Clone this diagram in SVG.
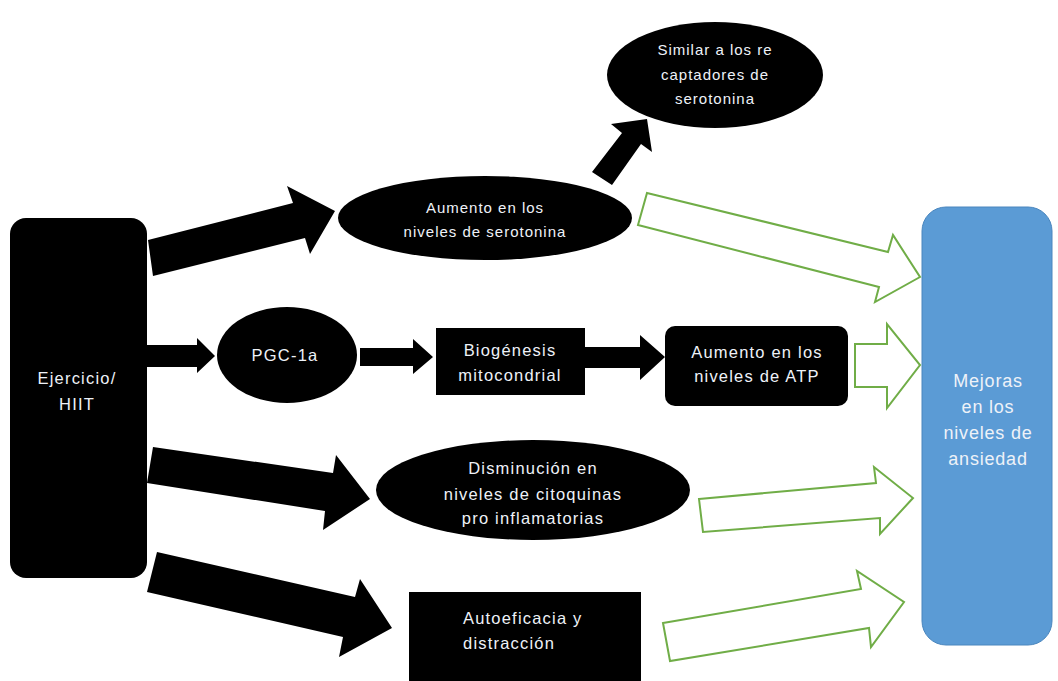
<svg xmlns="http://www.w3.org/2000/svg" width="1058" height="681" viewBox="0 0 1058 681">
<style>
.blk{fill:#000;}
.grn{fill:#fff;stroke:#70AD47;stroke-width:2;stroke-linejoin:miter;}
.t{font-family:"Liberation Sans",Arial,sans-serif;fill:#eef2f8;text-anchor:middle;}
.s{font-size:15px;letter-spacing:1px;}
.m{font-size:16.5px;letter-spacing:1.2px;}
.l{font-size:18px;letter-spacing:0.8px;}
</style>
<rect width="1058" height="681" fill="#fff"/>
<g id="connectors">
<polygon class="blk" points="148,240 293,203 287,186 335,211 310,254 305,238 153,276"/>
<polygon class="blk" points="592,172 622,133 611,124 647,119 652,152 641,144 612,185"/>
<polygon class="blk" points="147,345 197,345 197,338 215,356 197,373 197,367 147,367"/>
<polygon class="blk" points="360,348 413,348 413,339 433,357 413,374 413,366 360,366"/>
<polygon class="blk" points="585,347 640,347 640,335 665,357 640,380 640,368 585,368"/>
<polygon class="blk" points="153,447 333,473 336,455 370,499 323,530 325,511 147,483"/>
<polygon class="blk" points="157,552 355,597 360,579 392,628 339,657 343,637 147,592"/>
<polygon class="grn" points="647,193 888,252 893,235 920,277 875,302 879,287 638,225"/>
<polygon class="grn" points="855,344 887,344 887,324 920,365 887,408 887,387 855,387"/>
<polygon class="grn" points="699,499 876,483 874,467 913,498 880,534 880,518 703,532"/>
<polygon class="grn" points="663,623 861,589 857,571 904,602 871,647 869,628 670,661"/>
</g>
<g id="ejercicio">
<rect x="10" y="218" width="137" height="360" rx="16" fill="#000"/>
<text class="t m" x="77" y="384">Ejercicio/</text>
<text class="t m" x="77" y="410">HIIT</text>
</g>
<g id="similar">
<ellipse cx="715" cy="75" rx="108" ry="53" fill="#000"/>
<text class="t s" x="715" y="55">Similar a los re</text>
<text class="t s" x="715" y="80">captadores de</text>
<text class="t s" x="715" y="104">serotonina</text>
</g>
<g id="serotonina">
<ellipse cx="485" cy="218" rx="147" ry="42" fill="#000"/>
<text class="t s" x="485" y="213">Aumento en los</text>
<text class="t s" x="485" y="237">niveles de serotonina</text>
</g>
<g id="pgc">
<ellipse cx="287" cy="355" rx="70" ry="48" fill="#000"/>
<text class="t m" x="285" y="361">PGC-1a</text>
</g>
<g id="biogenesis">
<rect x="436" y="328" width="149" height="67" fill="#000"/>
<text class="t m" x="510" y="356">Biogénesis</text>
<text class="t m" x="510" y="381">mitocondrial</text>
</g>
<g id="atp">
<rect x="665" y="326" width="183" height="80" rx="10" fill="#000"/>
<text class="t m" x="757" y="358">Aumento en los</text>
<text class="t m" x="757" y="382">niveles de ATP</text>
</g>
<g id="citoquinas">
<ellipse cx="533" cy="490" rx="157" ry="50" fill="#000"/>
<text class="t m" x="533" y="474">Disminución en</text>
<text class="t m" x="533" y="500">niveles de citoquinas</text>
<text class="t m" x="533" y="524">pro inflamatorias</text>
</g>
<g id="autoeficacia">
<rect x="409" y="592" width="232" height="89" fill="#000"/>
<text class="t m" x="463" y="624" style="text-anchor:start">Autoeficacia y</text>
<text class="t m" x="463" y="649" style="text-anchor:start">distracción</text>
</g>
<g id="mejoras">
<rect x="922" y="207" width="130" height="438" rx="24" fill="#5B9BD5" stroke="#4A86BE" stroke-width="1"/>
<text class="t l" x="988" y="387">Mejoras</text>
<text class="t l" x="988" y="413">en los</text>
<text class="t l" x="988" y="439">niveles de</text>
<text class="t l" x="988" y="465">ansiedad</text>
</g>
</svg>
